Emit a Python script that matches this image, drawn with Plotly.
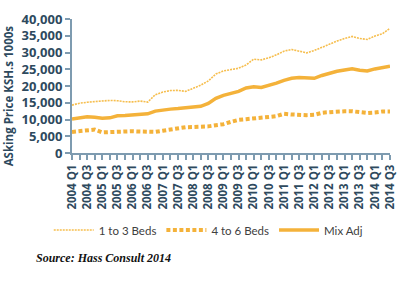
import plotly.graph_objects as go

quarters = [f"{y} Q{q}" for y in range(2004, 2015) for q in range(1, 5)][:43]

beds_1_3 = [14300, 14860, 15150, 15350, 15500, 15700, 15600, 15300, 15250, 15500,
            15200, 17400, 18200, 18640, 18700, 18400, 19300, 20250, 21500, 23600,
            24500, 24900, 25300, 26300, 28000, 27800, 28400, 29300, 30400, 30900,
            30300, 29900, 30600, 31600, 32600, 33400, 34200, 34800, 34200, 33900,
            34900, 35600, 37200]
mix_adj = [10170, 10500, 10800, 10650, 10400, 10500, 11100, 11200, 11300, 11400,
           11700, 12500, 12900, 13100, 13250, 13450, 13650, 13950, 14800, 16300,
           17200, 17900, 18400, 19400, 19800, 19550, 20100, 20850, 21700, 22300,
           22550, 22400, 22300, 23150, 23900, 24400, 24800, 25150, 24700, 24500,
           25100, 25500, 25900]
beds_4_6 = [6300, 6600, 6900, 7000, 6150, 6300, 6400, 6550, 6500, 6400,
            6350, 6300, 6650, 7000, 7500, 7700, 7750, 7800, 7950, 8300,
            8600, 9300, 9900, 10100, 10400, 10600, 10750, 11000, 11700, 11500,
            11300, 11300, 11400, 12000, 12200, 12400, 12450, 12450, 12300, 11950,
            12100, 12400, 12400]

xi = list(range(len(quarters)))
tick_text = [q if i % 2 == 0 else "" for i, q in enumerate(quarters)]

ORANGE = "#F4B23A"
AXIS = "#7E9BB0"
TXT = "#2E4A5E"
FONT = "Open Sans"

fig = go.Figure()
fig.add_trace(go.Scatter(x=xi, y=beds_1_3, mode="lines", name="1 to 3 Beds",
                         line=dict(color="#F6BE4E", width=1.6, dash="2px,1px")))
fig.add_trace(go.Scatter(x=xi, y=beds_4_6, mode="lines", name="4 to 6 Beds",
                         line=dict(color=ORANGE, width=4, dash="4px,2.5px")))
fig.add_trace(go.Scatter(x=xi, y=mix_adj, mode="lines", name="Mix Adj",
                         line=dict(color=ORANGE, width=3.5)))

fig.update_layout(
    width=407, height=297,
    margin=dict(l=72, r=10, t=11, b=144),
    paper_bgcolor="white", plot_bgcolor="white",
    showlegend=True,
    legend=dict(orientation="h", x=0.43, xanchor="center", y=-0.575, yanchor="middle",
                bgcolor="rgba(0,0,0,0)",
                font=dict(family="Lato", size=11.5, color="#404040"),
                itemwidth=40, tracegroupgap=0, traceorder="normal"),
    font=dict(family=FONT),
)
fig.update_xaxes(
    range=[0, 42], tickvals=xi, ticktext=tick_text, tickangle=-90,
    showline=True, linecolor=AXIS, linewidth=2,
    ticks="outside", ticklen=5, tickwidth=1.5, tickcolor=AXIS,
    showgrid=False, zeroline=False,
    tickfont=dict(family=FONT, size=11.5, color=TXT, weight=700),
)
fig.update_yaxes(
    range=[0, 40000], dtick=5000, tickformat=",",
    showline=True, linecolor=AXIS, linewidth=2,
    ticks="outside", ticklen=5, tickwidth=1.5, tickcolor=AXIS,
    showgrid=False, zeroline=False,
    tickfont=dict(family=FONT, size=13, color=TXT, weight=700),
)
fig.add_annotation(text="ASking Price KSH.s 1000s", textangle=-90,
                   xref="paper", yref="paper", x=(8 - 72) / 325, y=(153.3 - 93) / 141.6,
                   xanchor="center", yanchor="middle", showarrow=False,
                   font=dict(family=FONT, size=11.5, color=TXT, weight=700))
fig.add_annotation(text="Source: Hass Consult 2014",
                   xref="paper", yref="paper", x=(33 - 72) / 325, y=(153.3 - 264) / 141.6,
                   xanchor="left", yanchor="middle", showarrow=False,
                   font=dict(family="Liberation Serif", size=12, color="#111111",
                             weight=700, style="italic"))

fig.write_html("out.html")
